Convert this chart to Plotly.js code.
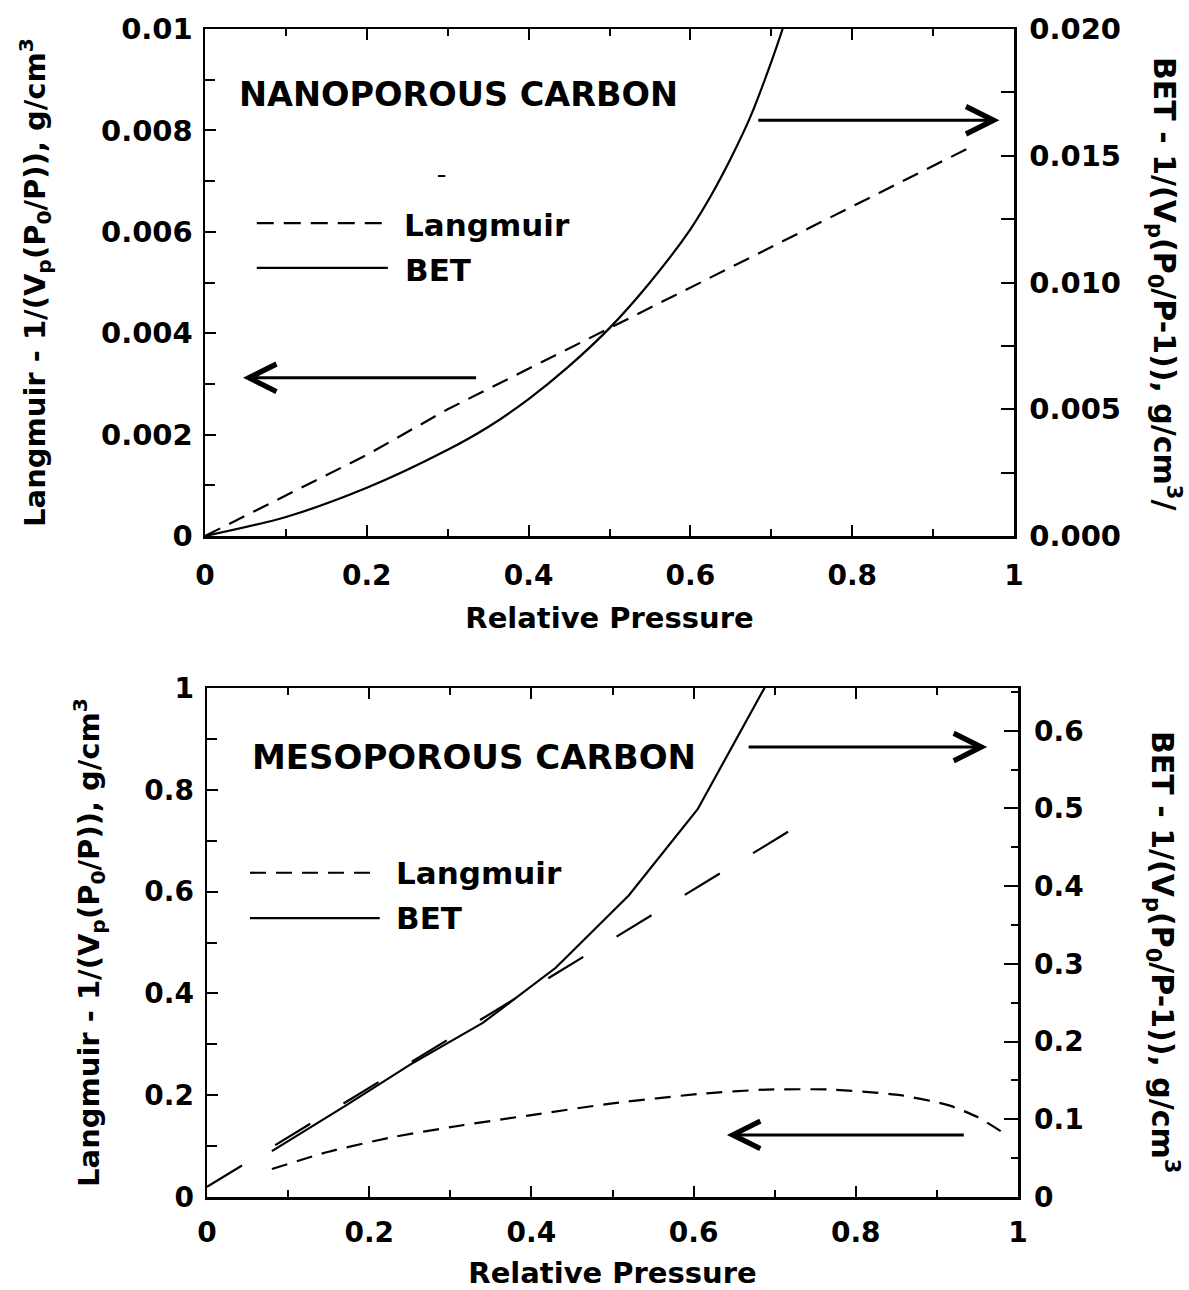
<!DOCTYPE html>
<html>
<head>
<meta charset="utf-8">
<script src="https://cdn.plot.ly/plotly-3.0.1.min.js"></script>
<style>html,body{margin:0;padding:0;background:#fff;}#chart{width:1189px;height:1290px;}</style>
</head>
<body>
<div id="chart"></div>
<script>
// ---------- DATA ----------
// Top panel: nanoporous carbon
const topLangmuirX = [0, 0.1, 0.2, 0.3, 0.4, 0.5, 0.6, 0.7, 0.8, 0.9, 0.95];
const topLangmuirY = [0, 0.0008, 0.0016, 0.0025, 0.0033, 0.0041, 0.0049, 0.0057, 0.0065, 0.0073, 0.0077]; // left axis
const topBetX = [0, 0.1, 0.2, 0.3, 0.35, 0.4, 0.45, 0.5, 0.55, 0.6, 0.625, 0.65, 0.675, 0.7, 0.714];
const topBetY = [0, 0.00075, 0.0019, 0.0034, 0.0043, 0.0054, 0.0067, 0.0082, 0.0100, 0.0121, 0.0134, 0.0149, 0.0166, 0.0187, 0.0200]; // right axis

// Bottom panel: mesoporous carbon
const botLangmuirX = [0.08, 0.15, 0.23, 0.315, 0.4, 0.5, 0.61, 0.69, 0.77, 0.855, 0.915, 0.95, 0.98];
const botLangmuirY = [0.055, 0.089, 0.118, 0.141, 0.161, 0.184, 0.203, 0.211, 0.211, 0.200, 0.180, 0.157, 0.128]; // left axis
const botBetX = [0.08, 0.17, 0.25, 0.34, 0.43, 0.52, 0.605, 0.69];
const botBetY = [0.059, 0.117, 0.170, 0.224, 0.295, 0.388, 0.499, 0.660]; // right axis
const botBetFitX = [0, 0.718];
const botBetFitY = [0.013, 0.471]; // right axis

// Tick labels / text
const xTickVals = [0, 0.2, 0.4, 0.6, 0.8, 1];
const xTitle = 'Relative Pressure';
const topLeftTitle = 'Langmuir - 1/(V<sub>p</sub>(P<sub>0</sub>/P)), g/cm<sup>3</sup>';
const topRightTitle = 'BET - 1/(V<sub>p</sub>(P<sub>0</sub>/P-1)), g/cm<sup>3</sup>/';
const botLeftTitle = 'Langmuir - 1/(V<sub>p</sub>(P<sub>0</sub>/P)), g/cm<sup>3</sup>';
const botRightTitle = 'BET - 1/(V<sub>p</sub>(P<sub>0</sub>/P-1)), g/cm<sup>3</sup>';
const panelLabels = ['NANOPOROUS CARBON', 'MESOPOROUS CARBON'];
const seriesNames = ['Langmuir', 'BET'];

// ---------- STYLE ----------
const FAM = 'DejaVu Sans';
const bold = (size) => ({family: FAM, size: size, color: '#000', weight: 'bold'});
const LW = 2.2;

const traces = [
  {x: topLangmuirX, y: topLangmuirY, xaxis: 'x', yaxis: 'y', mode: 'lines', name: seriesNames[0],
   line: {color: '#000', width: LW, dash: '17px,10px'}},
  {x: topBetX, y: topBetY, xaxis: 'x', yaxis: 'y2', mode: 'lines', name: seriesNames[1],
   line: {color: '#000', width: LW, shape: 'spline', smoothing: 0.8}},
  {x: botLangmuirX, y: botLangmuirY, xaxis: 'x2', yaxis: 'y3', mode: 'lines', name: seriesNames[0],
   line: {color: '#000', width: LW, dash: '16px,10px', shape: 'spline', smoothing: 0.6}},
  {x: botBetX, y: botBetY, xaxis: 'x2', yaxis: 'y4', mode: 'lines', name: seriesNames[1],
   line: {color: '#000', width: LW}},
  {x: botBetFitX, y: botBetFitY, xaxis: 'x2', yaxis: 'y4', mode: 'lines', name: 'BET fit',
   line: {color: '#000', width: LW, dash: '41px,39px'}}
];

const xBase = (domain, labelStandoff) => ({
  domain: domain, range: [0, 1], tickvals: xTickVals, ticks: 'inside', ticklen: 11, tickwidth: 2,
  tickcolor: '#000', showline: true, linewidth: 2.5, linecolor: '#000', mirror: 'ticks',
  showgrid: false, zeroline: false, tickfont: bold(28), ticklabelstandoff: labelStandoff,
  minor: {dtick: 0.1, ticks: 'inside', ticklen: 7, tickwidth: 2, tickcolor: '#000', showgrid: false},
  title: {text: xTitle, font: bold(29), standoff: 17}, automargin: false, fixedrange: true
});

const yBase = (domain, range, dtick, minorDtick, size, side) => ({
  domain: domain, range: range, dtick: dtick, tick0: 0, ticks: 'inside', ticklen: 11, tickwidth: 2,
  tickcolor: '#000', showline: true, linewidth: 2.5, linecolor: '#000', mirror: false,
  showgrid: false, zeroline: false, tickfont: bold(size), side: side,
  minor: {dtick: minorDtick, tick0: 0, ticks: 'inside', ticklen: side === 'right' ? 7 : 10, tickwidth: 2, tickcolor: '#000', showgrid: false},
  automargin: false, fixedrange: true
});

const topX = [205/1189, 1014/1189];
const botX = [207/1189, 1018/1189];
const topY = [1 - 536/1290, 1 - 29/1290];
const botY = [1 - 1197/1290, 1 - 688/1290];

const yaxis = Object.assign(yBase(topY, [0, 0.01], 0.002, 0.001, 29, 'left'),
  {anchor: 'x', ticklabelstandoff: 4, title: {text: topLeftTitle, font: bold(29), standoff: 47}});
const yaxis2 = Object.assign(yBase(topY, [0, 0.02], 0.005, 0.0025, 29, 'right'),
  {anchor: 'x', overlaying: 'y', tickformat: '.3f', ticklabelstandoff: 7, ticklen: 13,
   minor: {dtick: 0.0025, tick0: 0, ticks: 'inside', ticklen: 13, tickwidth: 2, tickcolor: '#000', showgrid: false}});
const yaxis3 = Object.assign(yBase(botY, [0, 1], 0.2, 0.1, 28, 'left'),
  {anchor: 'x2', ticklabelstandoff: 5, title: {text: botLeftTitle, font: bold(29), standoff: 36}});
const yaxis4 = Object.assign(yBase(botY, [0, 0.655], 0.1, 0.05, 28, 'right'),
  {anchor: 'x2', overlaying: 'y3', ticklabelstandoff: 8, ticklen: 14});

const arrow = (xref, yref, tipX, tailX, yv) => ({
  xref: xref, yref: yref, axref: xref, ayref: yref, x: tipX, y: yv, ax: tailX, ay: yv,
  text: '', showarrow: true, arrowhead: 5, arrowsize: 1.8, arrowwidth: 3, arrowcolor: '#000', standoff: 0, startstandoff: 0
});
const txt = (xref, yref, x, y, text, size) => ({
  xref: xref, yref: yref, x: x, y: y, text: text, showarrow: false, xanchor: 'left', yanchor: 'middle',
  font: bold(size)
});

const annotations = [
  txt('x', 'y', 0.039, 0.0087, panelLabels[0], 33.5),
  txt('x', 'y', 0.2435, 0.00613, seriesNames[0], 31),
  txt('x', 'y', 0.245, 0.00525, seriesNames[1], 31),
  arrow('x', 'y', 0.047, 0.337, 0.00312),
  arrow('x', 'y', 0.982, 0.682, 0.0082),
  txt('x2', 'y3', 0.053, 0.864, panelLabels[1], 34),
  txt('x2', 'y3', 0.231, 0.637, seriesNames[0], 31),
  txt('x2', 'y3', 0.231, 0.548, seriesNames[1], 31),
  arrow('x2', 'y3', 0.962, 0.666, 0.884),
  arrow('x2', 'y3', 0.641, 0.935, 0.122),
  {xref: 'paper', yref: 'paper', x: 1165/1189, y: 1 - 283/1290, text: topRightTitle, textangle: 90,
   showarrow: false, xanchor: 'center', yanchor: 'middle', font: bold(30)},
  {xref: 'paper', yref: 'paper', x: 1163/1189, y: 1 - 952/1290, text: botRightTitle, textangle: 90,
   showarrow: false, xanchor: 'center', yanchor: 'middle', font: bold(30)}
];

const shapes = [
  // legend samples
  {type: 'line', xref: 'x', yref: 'y', x0: 0.064, x1: 0.219, y0: 0.00617, y1: 0.00617, line: {color: '#000', width: LW, dash: '17px,10px'}},
  {type: 'line', xref: 'x', yref: 'y', x0: 0.064, x1: 0.226, y0: 0.00529, y1: 0.00529, line: {color: '#000', width: LW}},
  {type: 'line', xref: 'x2', yref: 'y3', x0: 0.053, x1: 0.201, y0: 0.637, y1: 0.637, line: {color: '#000', width: LW, dash: '16px,10px'}},
  {type: 'line', xref: 'x2', yref: 'y3', x0: 0.053, x1: 0.213, y0: 0.548, y1: 0.548, line: {color: '#000', width: LW}},
  // small stray mark in the top panel
  {type: 'line', xref: 'x', yref: 'y', x0: 0.288, x1: 0.297, y0: 0.0071, y1: 0.0071, line: {color: '#000', width: 2}}
];

const layout = {
  width: 1189, height: 1290, margin: {l: 0, r: 0, t: 0, b: 0},
  paper_bgcolor: '#fff', plot_bgcolor: '#fff', showlegend: false,
  font: {family: FAM, color: '#000'},
  xaxis: Object.assign(xBase(topX, 13), {anchor: 'y'}),
  xaxis2: Object.assign(xBase(botX, 9), {anchor: 'y3'}),
  yaxis: yaxis, yaxis2: yaxis2, yaxis3: yaxis3, yaxis4: yaxis4,
  annotations: annotations, shapes: shapes
};

Plotly.newPlot('chart', traces, layout, {displayModeBar: false, staticPlot: true});
</script>
</body>
</html>
